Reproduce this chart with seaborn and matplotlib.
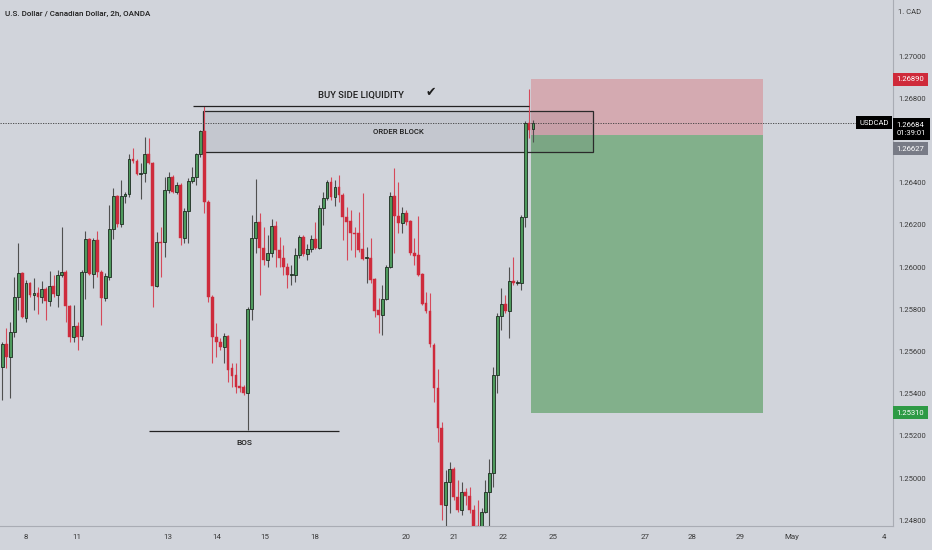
import numpy as np
import pandas as pd
import seaborn as sns
import matplotlib.pyplot as plt
import matplotlib.transforms as mtransforms
from matplotlib.patches import Rectangle

# 2h USDCAD candles (OANDA)
opens = [
    1.25526, 1.25635, 1.25574, 1.25692, 1.25858, 1.25972, 1.25758, 1.25924, 1.25867, 1.25877,
    1.25858, 1.25896, 1.25839, 1.25910, 1.25867, 1.25962, 1.25976, 1.25815, 1.25668, 1.25721,
    1.25673, 1.25976, 1.26133, 1.25967, 1.26128, 1.25976, 1.25853, 1.25953, 1.26180, 1.26337,
    1.26204, 1.26337, 1.26346, 1.26512, 1.26502, 1.26441, 1.26446, 1.26536, 1.26493, 1.25910,
    1.26119, 1.26119, 1.26365, 1.26427, 1.26356, 1.26389, 1.26138, 1.26265, 1.26408, 1.26427,
    1.26536, 1.26645, 1.26308, 1.25858, 1.25668, 1.25645, 1.25621, 1.25673, 1.25521, 1.25488,
    1.25436, 1.25431, 1.25403, 1.25801, 1.26138, 1.26213, 1.26090, 1.26033, 1.26066, 1.26194,
    1.26081, 1.26043, 1.26000, 1.25962, 1.25962, 1.26057, 1.26142, 1.26062, 1.26085, 1.26133,
    1.26090, 1.26280, 1.26327, 1.26403, 1.26332, 1.26379, 1.26341, 1.26237, 1.26218, 1.26161,
    1.26161, 1.26085, 1.26043, 1.26043, 1.25943, 1.25796, 1.25773, 1.25848, 1.26000, 1.26337,
    1.26242, 1.26209, 1.26256, 1.26218, 1.26066, 1.26057, 1.25967, 1.25829, 1.25792, 1.25630,
    1.25427, 1.25237, 1.24872, 1.24981, 1.25043, 1.24910, 1.24848, 1.24934, 1.24915, 1.24848,
    1.24773, 1.24768, 1.24839, 1.24934, 1.25024, 1.25488, 1.25768, 1.25825, 1.25792, 1.25934,
    1.25924, 1.25924, 1.26237, 1.26683, 1.26654]

highs = [
    1.25645, 1.25711, 1.25739, 1.25953, 1.26114, 1.25976, 1.25939, 1.25929, 1.25948, 1.25905,
    1.25934, 1.25905, 1.25981, 1.25962, 1.25986, 1.26190, 1.25986, 1.25820, 1.25820, 1.25739,
    1.25986, 1.26171, 1.26138, 1.26138, 1.26171, 1.25986, 1.25972, 1.26294, 1.26374, 1.26341,
    1.26412, 1.26356, 1.26536, 1.26564, 1.26512, 1.26493, 1.26616, 1.26611, 1.26497, 1.26166,
    1.26190, 1.26427, 1.26450, 1.26436, 1.26403, 1.26398, 1.26280, 1.26422, 1.26474, 1.26540,
    1.26649, 1.26763, 1.26318, 1.25867, 1.25735, 1.25664, 1.25687, 1.25678, 1.25545, 1.25545,
    1.25659, 1.25441, 1.25811, 1.26246, 1.26417, 1.26256, 1.26190, 1.26152, 1.26228, 1.26218,
    1.26142, 1.26104, 1.26019, 1.26010, 1.26090, 1.26152, 1.26152, 1.26109, 1.26152, 1.26213,
    1.26294, 1.26356, 1.26412, 1.26427, 1.26412, 1.26436, 1.26351, 1.26284, 1.26270, 1.26190,
    1.26261, 1.26351, 1.26095, 1.26138, 1.25948, 1.25853, 1.25915, 1.26010, 1.26356, 1.26469,
    1.26403, 1.26284, 1.26270, 1.26223, 1.26138, 1.26242, 1.25972, 1.25882, 1.25877, 1.25640,
    1.25517, 1.25266, 1.25038, 1.25076, 1.25052, 1.24991, 1.24981, 1.24953, 1.24958, 1.24872,
    1.24896, 1.24858, 1.24991, 1.25090, 1.25526, 1.25782, 1.25901, 1.25867, 1.26000, 1.26047,
    1.25939, 1.26246, 1.26692, 1.26844, 1.26697]

lows = [
    1.25370, 1.25521, 1.25379, 1.25668, 1.25796, 1.25758, 1.25739, 1.25858, 1.25796, 1.25777,
    1.25829, 1.25749, 1.25815, 1.25858, 1.25811, 1.25953, 1.25739, 1.25645, 1.25645, 1.25607,
    1.25654, 1.25848, 1.25962, 1.25901, 1.25953, 1.25725, 1.25839, 1.25939, 1.26133, 1.26190,
    1.26190, 1.26303, 1.26332, 1.26493, 1.26436, 1.26322, 1.26403, 1.26488, 1.25811, 1.25905,
    1.25953, 1.26047, 1.26351, 1.26351, 1.26346, 1.26104, 1.26114, 1.26114, 1.26398, 1.26389,
    1.26521, 1.26256, 1.25834, 1.25545, 1.25574, 1.25607, 1.25545, 1.25455, 1.25431, 1.25403,
    1.25408, 1.25394, 1.25228, 1.25749, 1.26066, 1.25867, 1.26010, 1.26000, 1.26047, 1.26000,
    1.26000, 1.25962, 1.25901, 1.25915, 1.25929, 1.26043, 1.26052, 1.26033, 1.26071, 1.26085,
    1.26085, 1.26199, 1.26318, 1.26318, 1.26289, 1.26308, 1.26128, 1.26033, 1.26081, 1.26047,
    1.26071, 1.26033, 1.25924, 1.25924, 1.25763, 1.25687, 1.25678, 1.25844, 1.25995, 1.26066,
    1.26161, 1.26161, 1.26199, 1.26057, 1.26010, 1.25957, 1.25820, 1.25782, 1.25621, 1.25360,
    1.25171, 1.24801, 1.24768, 1.24834, 1.24896, 1.24839, 1.24825, 1.24872, 1.24834, 1.24763,
    1.24754, 1.24754, 1.24834, 1.24768, 1.24958, 1.25403, 1.25702, 1.25782, 1.25664, 1.25915,
    1.25915, 1.25891, 1.26190, 1.26611, 1.26592]

closes = [
    1.25635, 1.25574, 1.25692, 1.25858, 1.25972, 1.25763, 1.25924, 1.25867, 1.25877, 1.25858,
    1.25896, 1.25839, 1.25910, 1.25872, 1.25962, 1.25976, 1.25815, 1.25668, 1.25721, 1.25668,
    1.25976, 1.26133, 1.25967, 1.26128, 1.25976, 1.25853, 1.25957, 1.26180, 1.26337, 1.26204,
    1.26337, 1.26346, 1.26512, 1.26502, 1.26441, 1.26446, 1.26536, 1.26493, 1.25910, 1.26119,
    1.26114, 1.26365, 1.26427, 1.26356, 1.26389, 1.26138, 1.26265, 1.26408, 1.26427, 1.26536,
    1.26645, 1.26308, 1.25858, 1.25668, 1.25645, 1.25621, 1.25673, 1.25512, 1.25484, 1.25431,
    1.25427, 1.25403, 1.25801, 1.26138, 1.26213, 1.26090, 1.26033, 1.26066, 1.26194, 1.26081,
    1.26043, 1.26000, 1.25962, 1.25967, 1.26057, 1.26142, 1.26062, 1.26085, 1.26133, 1.26090,
    1.26280, 1.26327, 1.26403, 1.26332, 1.26379, 1.26341, 1.26237, 1.26213, 1.26161, 1.26157,
    1.26081, 1.26038, 1.26047, 1.25939, 1.25792, 1.25773, 1.25848, 1.26000, 1.26337, 1.26242,
    1.26209, 1.26256, 1.26213, 1.26066, 1.26052, 1.25962, 1.25825, 1.25792, 1.25635, 1.25427,
    1.25237, 1.24872, 1.24981, 1.25043, 1.24910, 1.24848, 1.24934, 1.24915, 1.24848, 1.24768,
    1.24763, 1.24839, 1.24934, 1.25024, 1.25488, 1.25768, 1.25825, 1.25792, 1.25934, 1.25924,
    1.25929, 1.26237, 1.26683, 1.26649, 1.26684]

# date labels sit at bar positions
date_ticks = [6.0, 18.9, 41.8, 54.2, 66.3, 78.9, 101.9, 114.1, 126.4, 139.1,
              162.3, 174.2, 186.3, 199.4, 222.6]
date_labels = ['8', '11', '13', '14', '15', '18', '20', '21', '22', '25',
               '27', '28', '29', 'May', '4']
# 1.26600 sits under the price labels, so it is left out
price_ticks = [1.248, 1.250, 1.252, 1.254, 1.256, 1.258, 1.260,
               1.262, 1.264, 1.268, 1.270]

# drawings
last_price = 1.26684
stop_price = 1.26890
entry_price = 1.26627
target_price = 1.25310
bsl_level = 1.26764
ob_top, ob_bottom = 1.26741, 1.26544
bos_level = 1.25223

BG = '#D1D4DB'
UP = '#4E9A5D'
DOWN = '#CE2B3C'

df = pd.DataFrame({'open': opens, 'high': highs, 'low': lows, 'close': closes})
df['bar'] = np.arange(len(df))
df['up'] = df['close'] >= df['open']
df['body'] = (df['close'] - df['open']).abs().clip(lower=0.00004)
df['base'] = df[['open', 'close']].min(axis=1)

sns.set_style('white', {'axes.facecolor': BG, 'figure.facecolor': BG})
plt.rcParams['font.family'] = ['Roboto', 'DejaVu Sans']

fig = plt.figure(figsize=(9.32, 5.5), dpi=100)
ax = fig.add_axes([0, 24 / 550, 893 / 932, 526 / 550])
ax.set_xlim(-0.58, 224.9)
ax.set_ylim(1.247727, 1.272654)

# long position box
ax.add_patch(Rectangle((133.5, entry_price), 58.6, stop_price - entry_price,
                       fc='#D4AAB1', ec='none', zorder=1))
ax.add_patch(Rectangle((133.5, target_price), 58.6, entry_price - target_price,
                       fc='#82B08B', ec='none', zorder=1))

# order block
ax.add_patch(Rectangle((50.8, ob_bottom), 98.4, ob_top - ob_bottom,
                       fc=(0.15, 0.15, 0.2, 0.07), ec='#2a2a2a', lw=0.9, zorder=2))

# candles
up = df[df['up']]
dn = df[~df['up']]
ax.vlines(up['bar'], up['low'], up['high'], color='#505050', lw=0.8, zorder=3)
ax.vlines(dn['bar'], dn['low'], dn['high'], color='#D5495A', lw=0.8, zorder=3)
ax.bar(up['bar'], up['body'], bottom=up['base'], width=0.72, color=UP,
       edgecolor='#1d2b20', lw=0.6, zorder=4)
ax.bar(dn['bar'], dn['body'], bottom=dn['base'], width=0.72, color=DOWN,
       edgecolor=DOWN, lw=0.3, zorder=4)

# levels
ax.axhline(last_price, color='#3a3a3a', lw=0.6, ls=(0, (1.5, 1.5)), zorder=2)
ax.hlines(bsl_level, 48.1, 133.1, color='#222222', lw=0.9, zorder=5)
ax.hlines(bos_level, 37.0, 85.0, color='#222222', lw=0.9, zorder=5)

ax.text(90.5, 1.26815, 'BUY SIDE LIQUIDITY', ha='center', va='center',
        fontsize=6.8, fontweight='medium', color='#1e1e1e')
ax.text(108.2, 1.26826, '\u2714', ha='center', va='center', fontsize=9,
        color='#1e1e1e', family='DejaVu Sans')
ax.text(100.1, 1.26641, 'ORDER BLOCK', ha='center', va='center',
        fontsize=5.6, fontweight='medium', color='#1e1e1e', zorder=6)
ax.text(61.0, 1.25167, 'BOS', ha='center', va='center', fontsize=6.0,
        fontweight='medium', color='#1e1e1e')

# axes look
sns.despine(ax=ax, left=True, top=True, right=False, bottom=False)
for side in ['right', 'bottom']:
    ax.spines[side].set_color('#A9ACB4')
    ax.spines[side].set_linewidth(0.8)
ax.yaxis.tick_right()
ax.set_yticks(price_ticks)
ax.set_yticklabels([f'{p:.5f}' for p in price_ticks])
ax.set_xticks(date_ticks)
ax.set_xticklabels(date_labels)
ax.tick_params(axis='y', length=0, pad=4, labelsize=5.5, labelcolor='#3a3a3a')
ax.tick_params(axis='x', length=0, pad=6, labelsize=5.7, labelcolor='#3a3a3a')
ax.grid(False)

# price labels on the scale
trans = mtransforms.blended_transform_factory(ax.transAxes, ax.transData)
lab = dict(xycoords=trans, textcoords='offset points', ha='left', va='center',
           fontsize=5.5, color='white', annotation_clip=False, zorder=10)
ax.annotate('1.26890', xy=(1.0, stop_price), xytext=(2.8, 0),
            bbox=dict(boxstyle='square,pad=0.45', fc='#CF2A3A', ec='none'), **lab)
ax.annotate('1.26627', xy=(1.0, entry_price), xytext=(2.8, -10),
            bbox=dict(boxstyle='square,pad=0.45', fc='#787B86', ec='none'), **lab)
ax.annotate('1.26684\n01:39:01', xy=(1.0, last_price), xytext=(2.8, -4.4),
            linespacing=1.35,
            bbox=dict(boxstyle='square,pad=0.55', fc='black', ec='none'), **lab)
ax.annotate('1.25310', xy=(1.0, target_price), xytext=(2.8, 0),
            bbox=dict(boxstyle='square,pad=0.45', fc='#2E9A45', ec='none'), **lab)
lab['ha'] = 'right'
ax.annotate('USDCAD', xy=(1.0, last_price), xytext=(-3, 0),
            bbox=dict(boxstyle='square,pad=0.45', fc='black', ec='none'), **lab)

fig.text(5 / 932, 1 - 14 / 550, 'U.S. Dollar / Canadian Dollar, 2h, OANDA',
         fontsize=5.8, fontweight='medium', va='center', color='#1e1e1e')
fig.text(898 / 932, 1 - 12 / 550, '1. CAD', fontsize=5.5, va='center',
         color='#3a3a3a')

fig.savefig('out.png', dpi=100, facecolor=BG)
